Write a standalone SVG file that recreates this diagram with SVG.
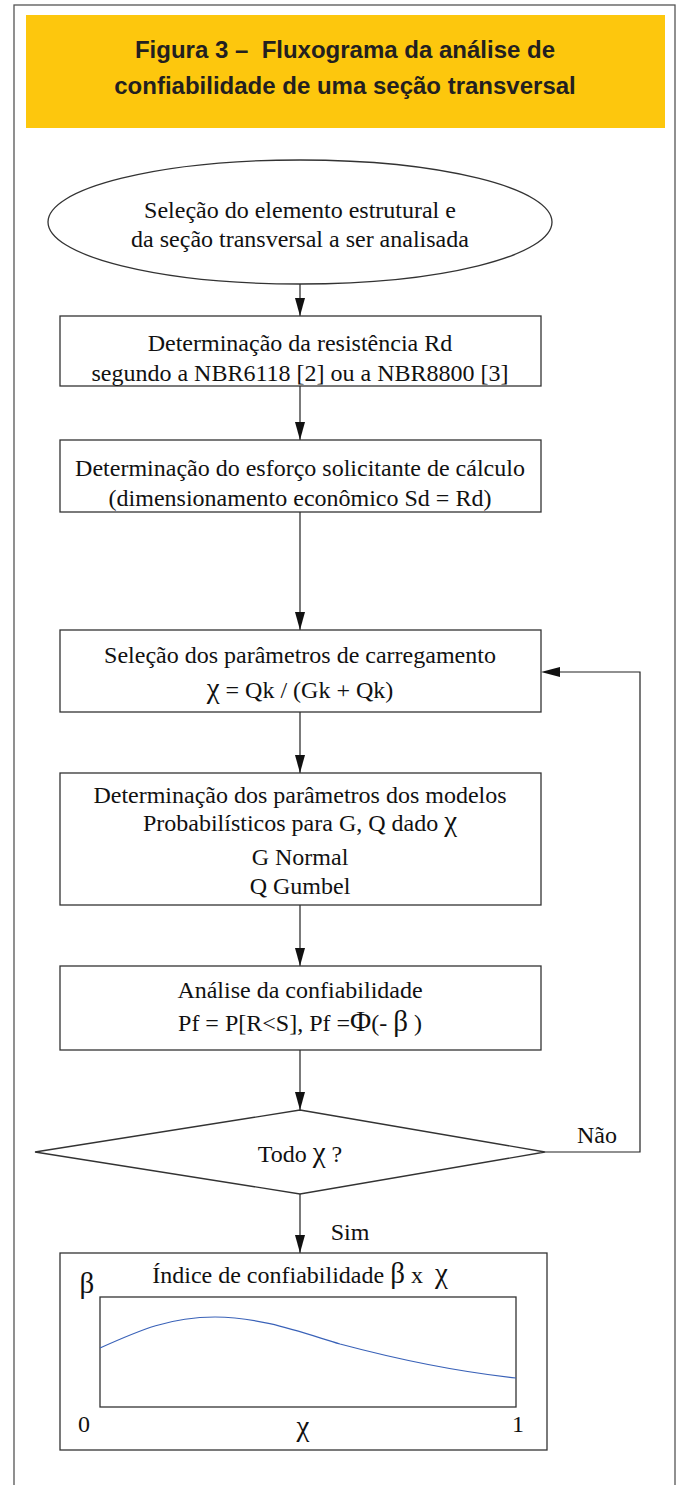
<svg xmlns="http://www.w3.org/2000/svg" width="677" height="1485" viewBox="0 0 677 1485">
<style>
.frame{fill:none;stroke:#555;stroke-width:1.3}
.shape{fill:#fff;stroke:#333;stroke-width:1.3}
.conn{fill:none;stroke:#222;stroke-width:1.2}
.ah{fill:#111}
.t{font-family:"Liberation Serif","Times New Roman",serif;font-size:24px;fill:#111;text-anchor:middle}
.g{font-size:29px}
.title{font-family:"Liberation Sans",Arial,sans-serif;font-weight:bold;font-size:24px;fill:#231f20;text-anchor:middle}
</style>
<rect width="677" height="1485" fill="#fff"/>
<rect class="frame" x="14" y="5" width="661" height="1490"/>
<g id="title">
<rect x="26" y="15" width="639" height="113" fill="#fdc70d"/>
<text class="title" x="345" y="58" xml:space="preserve">Figura 3 –  Fluxograma da análise de</text>
<text class="title" x="345" y="94">confiabilidade de uma seção transversal</text>
</g>
<g id="connectors">
<line class="conn" x1="300" y1="284" x2="300" y2="316"/>
<path class="ah" d="M295,298 L305,298 L300,316 Z"/>
<line class="conn" x1="300" y1="386" x2="300" y2="440"/>
<path class="ah" d="M295,422 L305,422 L300,440 Z"/>
<line class="conn" x1="300" y1="512" x2="300" y2="630"/>
<path class="ah" d="M295,612 L305,612 L300,630 Z"/>
<line class="conn" x1="300" y1="712" x2="300" y2="773"/>
<path class="ah" d="M295,755 L305,755 L300,773 Z"/>
<line class="conn" x1="300" y1="905" x2="300" y2="966"/>
<path class="ah" d="M295,948 L305,948 L300,966 Z"/>
<line class="conn" x1="300" y1="1050" x2="300" y2="1110"/>
<path class="ah" d="M295,1092 L305,1092 L300,1110 Z"/>
<line class="conn" x1="300" y1="1194" x2="300" y2="1253"/>
<path class="ah" d="M295,1235 L305,1235 L300,1253 Z"/>
<polyline class="conn" points="545,1152 640,1152 640,672 560,672"/>
<path class="ah" d="M560,667 L560,677 L541,672 Z"/>
<text class="t" x="597" y="1143">Não</text>
<text class="t" x="350" y="1240">Sim</text>
</g>
<g id="start">
<ellipse class="shape" cx="300" cy="222" rx="252" ry="62"/>
<text class="t" x="300" y="218">Seleção do elemento estrutural e</text>
<text class="t" x="300" y="247">da seção transversal a ser analisada</text>
</g>
<g id="resistencia">
<rect class="shape" x="60" y="316" width="481" height="70"/>
<text class="t" x="300" y="351">Determinação da resistência Rd</text>
<text class="t" x="300" y="381">segundo a NBR6118 [2] ou a NBR8800 [3]</text>
</g>
<g id="esforco">
<rect class="shape" x="60" y="440" width="481" height="72"/>
<text class="t" x="300" y="476">Determinação do esforço solicitante de cálculo</text>
<text class="t" x="300" y="506">(dimensionamento econômico Sd = Rd)</text>
</g>
<g id="parametros">
<rect class="shape" x="60" y="630" width="481" height="82"/>
<text class="t" x="300" y="663">Seleção dos parâmetros de carregamento</text>
<text class="t" x="300" y="698"><tspan class="g">χ</tspan> = Qk / (Gk + Qk)</text>
</g>
<g id="modelos">
<rect class="shape" x="60" y="773" width="481" height="132"/>
<text class="t" x="300" y="803">Determinação dos parâmetros dos modelos</text>
<text class="t" x="300" y="831">Probabilísticos para G, Q dado <tspan class="g">χ</tspan></text>
<text class="t" x="300" y="865">G Normal</text>
<text class="t" x="300" y="894">Q Gumbel</text>
</g>
<g id="analise">
<rect class="shape" x="60" y="966" width="481" height="84"/>
<text class="t" x="300" y="998">Análise da confiabilidade</text>
<text class="t" x="300" y="1031">Pf = P[R&lt;S], Pf =<tspan class="g">Φ</tspan>(- <tspan class="g">β</tspan> )</text>
</g>
<g id="decisao">
<polygon class="shape" points="300,1110 545,1152 300,1194 35,1152"/>
<text class="t" x="300" y="1162">Todo <tspan class="g">χ</tspan> ?</text>
</g>
<g id="grafico">
<rect class="shape" x="60" y="1253" width="487" height="197"/>
<rect class="shape" x="100" y="1297" width="416" height="110"/>
<path d="M100,1348 C140,1330 170,1317 215,1317 C260,1317 300,1332 340,1344 C400,1360 460,1372 516,1378" fill="none" stroke="#3a62b8" stroke-width="1.2"/>
<text class="t" x="300" y="1283" xml:space="preserve">Índice de confiabilidade <tspan class="g">β</tspan> x  <tspan class="g">χ</tspan></text>
<text class="t g" x="87" y="1293">β</text>
<text class="t" x="84" y="1432">0</text>
<text class="t g" x="303" y="1436">χ</text>
<text class="t" x="518" y="1432">1</text>
</g>
</svg>
